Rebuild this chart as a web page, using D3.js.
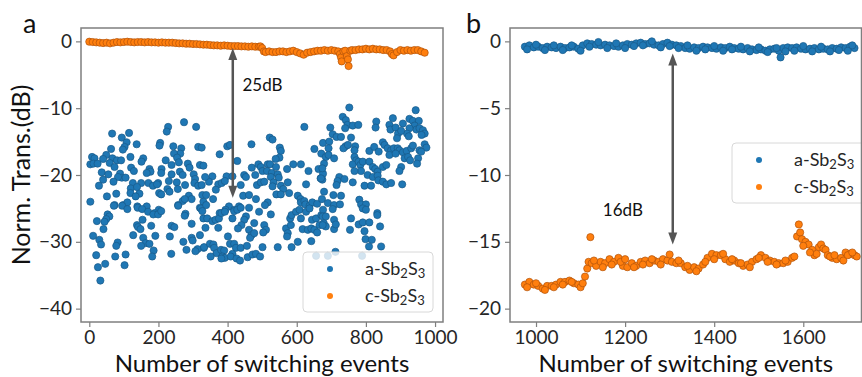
<!DOCTYPE html>
<html>
<head>
<meta charset="utf-8">
<script src="https://cdn.jsdelivr.net/npm/d3@7"></script>
<style>
  body { margin: 0; background: #fff; }
  svg { font-family: Lato, "Open Sans", sans-serif; }
</style>
</head>
<body>
<svg id="chart" width="862" height="377"></svg>
<script>
// panel a: amorphous state, scattered [event, dB]
const aAmorphous = [
  [274,-12.1],[228,-12.8],[224,-13.5],[309,-12.8],[66,-13.8],[115,-13.7],[94,-14.4],[108,-15.1],[102,-15.8],[97,-16.2],
  [137,-15.4],[205,-15.2],[203,-15.6],[243,-15.7],[315,-15.8],[325,-15.9],[63,-16.1],[266,-16],[263,-16.8],[245,-16.8],
  [8,-17.3],[15,-17.5],[3,-18.4],[12,-18.3],[24,-18.3],[49,-17],[40,-17.6],[67,-17.5],[59,-18.2],[80,-17.8],
  [92,-17.8],[73,-18.8],[119,-17.3],[156,-17.5],[151,-18],[221,-17.8],[238,-18.5],[254,-17.4],[259,-18.1],[285,-18.3],
  [290,-18.9],[320,-18.5],[121,-18.9],[129,-19.4],[174,-19.1],[177,-19.5],[166,-19.7],[209,-19.1],[208,-19.7],[238,-19.9],
  [262,-19.5],[270,-20],[302,-19.9],[36,-19.6],[55,-19.9],[89,-19.8],[94,-20.4],[83,-20.3],[105,-20.4],[126,-21.2],
  [120,-22],[119,-22.7],[150,-21.2],[171,-21.2],[199,-21.2],[230,-20.9],[253,-21.1],[277,-21.5],[306,-20.6],[304,-21.2],
  [315,-21.6],[325,-21.5],[40,-20.7],[28,-21.6],[70,-21],[51,-23.2],[78,-22.8],[3,-24],[73,-24.5],[138,-21.8],
  [145,-22.8],[134,-23.2],[184,-21.6],[196,-21.4],[202,-22.7],[208,-22.9],[226,-22.1],[232,-22.5],[256,-22.1],[270,-23.9],
  [288,-23.1],[296,-23.6],[276,-23.6],[327,-23],[330,-24],[98,-24.5],[110,-24.1],[139,-24.7],[166,-24.7],[201,-25.2],
  [189,-25.7],[257,-24.5],[320,-24.9],
  [22,-26.9],[53,-25.9],[58,-26.2],[49,-26.6],[44,-27],[41,-28.1],[11,-29.1],[29,-29.7],[34,-30.4],[20,-32],
  [25,-33.8],[46,-33.3],[32,-35.8],[82,-30.1],[78,-30.6],[75,-32.2],[105,-31.9],[102,-33.5],[71,-24.6],[95,-24.6],
  [110,-25.1],[140,-24.9],[153,-25.1],[170,-25.5],[185,-25.9],[199,-25.9],[208,-25.4],[154,-26.7],[138,-27.5],[141,-27.8],
  [148,-28.1],[179,-27.6],[127,-29],[156,-29.4],[191,-29.1],[163,-30.2],[174,-30.3],[150,-30.6],[186,-31.3],[182,-32.2],
  [233,-29.2],[238,-27.6],[246,-27.8],[237,-31.8],[257,-24.6],[278,-25.8],[276,-26.1],[296,-27.3],[272,-30],[296,-29.4],
  [299,-29.8],[281,-31.2],[320,-29],[331,-30.9],[313,-31.1],[307,-31.4],[323,-25],[330,-26.5],[336,-27.9],
  [622,-12.8],[522,-14.4],[530,-14.7],[469,-15.4],[399,-15.7],[407,-15.5],[551,-15.9],[554,-16.4],[550,-17.4],[539,-17.6],
  [377,-16.9],[651,-16.1],[671,-16.8],[428,-17.9],[330,-18.6],[470,-18.9],[489,-18.4],[496,-18.8],[501,-19.4],[516,-18.4],
  [523,-18.4],[514,-19.4],[528,-19.7],[525,-20.3],[540,-18.8],[545,-19.9],[548,-20.4],[572,-19.1],[590,-18.4],[612,-18.4],
  [634,-19.4],[663,-19.1],[669,-20.5],[676,-19.8],[448,-20],[453,-20.3],[480,-20],[397,-20.2],[414,-20.2],[356,-20.2],
  [346,-21],[335,-20.3],[373,-21.4],[383,-21.2],[392,-20.9],[366,-22.2],[438,-21.5],[485,-21.5],[496,-21.1],[506,-21],
  [533,-21.1],[530,-21.7],[554,-21.6],[574,-21.1],[561,-22.1],[541,-22.9],[554,-22.9],[578,-22.7],[627,-21.4],[603,-23.1],
  [611,-23.6],[612,-24.1],[622,-23.9],[625,-24.4],[637,-24.6],[645,-24.1],[659,-24.3],[673,-23.6],[674,-20.7],[338,-23],
  [358,-23.6],[338,-24.5],[445,-23.1],[462,-23],[482,-23.6],[516,-24.1],[508,-24.5],[404,-24.7],[419,-25.2],[394,-25.2],
  [433,-24.7],[377,-25.7],[462,-24.9],
  [327,-25.4],[341,-26.5],[356,-26.9],[365,-26.7],[375,-26.5],[373,-27.9],[382,-25.7],[392,-25.5],[414,-26.5],[419,-25.4],
  [428,-25.2],[438,-24.9],[453,-26.2],[448,-26.7],[440,-27.5],[430,-28],[462,-28.2],[469,-29],[465,-29.4],[477,-28.7],
  [477,-27.2],[491,-25.5],[506,-27.5],[511,-28.2],[503,-28.6],[525,-25.9],[501,-30.8],[545,-30.8],[585,-30.8],[603,-30],
  [642,-29.9],[569,-28],[574,-28.7],[572,-29.2],[583,-27.5],[581,-26.5],[585,-26],[598,-25.5],[608,-25.2],[612,-26.5],
  [617,-28.1],[632,-28.2],[642,-28],[651,-28.2],[659,-28.6],[627,-25.5],[637,-25],[644,-26.7],[656,-26.5],[666,-27.5],
  [671,-26],[678,-27.2],[676,-25.2],[332,-30.8],[349,-30.3],[359,-30.4],[361,-30.9],[368,-31.7],[351,-32.2],[381,-31.2],
  [390,-31.3],[385,-32.2],[392,-32.4],[382,-32.5],[401,-29.2],[407,-30.3],[419,-30.3],[424,-30.9],[414,-31.8],[409,-32.2],
  [426,-32.5],[436,-32.8],[438,-30.9],[456,-30.6],[458,-32.3],[472,-31.9],[482,-31.8],[494,-32.2],
  [752,-9.9],[733,-11.3],[742,-11.8],[747,-12.5],[740,-13],[762,-12.6],[778,-12.5],[697,-12.9],[704,-13.9],[715,-14.3],
  [728,-14.3],[757,-14.4],[830,-12],[828,-12.9],[878,-11.5],[868,-12.5],[871,-13.2],[907,-12.3],[926,-11.6],[936,-11.9],
  [953,-11.9],[941,-12.6],[946,-13.2],[955,-13],[965,-13.3],[970,-13.8],[961,-14],[926,-13],[919,-13.8],[924,-14.2],
  [944,-10.3],[886,-12.9],[893,-13.8],[902,-13.4],[890,-14.5],[676,-15.2],[694,-15],[692,-16],[741,-15.7],[735,-16],
  [748,-15.5],[769,-15.7],[767,-16.3],[810,-16.4],[824,-15.8],[849,-15.1],[854,-15.5],[863,-16],[873,-16.3],[881,-16],
  [892,-16],[897,-16.3],[907,-16.6],[918,-16.4],[931,-16],[936,-15.6],[955,-16.3],[970,-15.4],[975,-15.9],[868,-17],
  [886,-16.8],[912,-17.5],[922,-17.3],[928,-17.8],[951,-17.5],[948,-18.3],[960,-16.5],[837,-16.5],[684,-17.3],[692,-17],
  [708,-17.5],[679,-18.3],[767,-17.3],[772,-17.8],[762,-18.4],[779,-18],[784,-18.5],[791,-18],[786,-19.4],[767,-19.4],
  [810,-18],[820,-18.8],[827,-19.1],[834,-19.5],[849,-18.8],[859,-18.5],[902,-18.8],[897,-19.4],[674,-19],[670,-20.5],
  [723,-20.3],[718,-20.9],[715,-21.5],[738,-20.6],[762,-21.1],[805,-20],[820,-20.3],[834,-20.1],[836,-20.8],[849,-21],
  [859,-21.4],[873,-21.2],[796,-21.6],[815,-21.6],[905,-21.4],[679,-22.5],[706,-23],[728,-23.1],[690,-24.2],[708,-24.5],
  [725,-24.4],[704,-25.1],[781,-23.7],[786,-24.4],[800,-24.4],[791,-25],[833,-25.7],
  [800,-25.2],[675,-26.2],[684,-26.2],[708,-26.7],[684,-27.7],[675,-27.5],[708,-28.1],[713,-27.4],[757,-26.5],[754,-28.2],
  [779,-27.4],[791,-27.1],[810,-27.1],[796,-28.4],[833,-26],[841,-27.7],[799,-29.6],[817,-29.7],[809,-30.7],[844,-30.7],
  [656,-32.1],[690,-32.1],[712,-31.5],[789,-32.1]
]

// panel a: crystalline state
const aCrystalline = [
  [0,-0.05],[10,-0.1],[20,-0.15],[30,-0.2],[40,-0.25],[50,-0.2],[60,-0.3],[70,-0.2],[80,-0.1],[90,-0.15],
  [100,-0.1],[110,-0.05],[120,-0.1],[130,-0.15],[140,-0.1],[150,-0.1],[160,-0.15],[170,-0.1],[180,-0.15],[190,-0.15],
  [200,-0.2],[210,-0.15],[220,-0.2],[230,-0.2],[240,-0.2],[250,-0.25],[260,-0.3],[270,-0.3],[280,-0.35],[290,-0.35],
  [300,-0.4],[310,-0.4],[320,-0.45],[330,-0.5],[340,-0.5],[350,-0.55],[360,-0.6],[370,-0.6],[380,-0.65],[390,-0.6],
  [400,-0.65],[410,-0.7],[420,-0.7],[430,-0.7],[440,-0.75],[450,-0.75],[460,-0.8],[470,-0.75],[480,-0.8],[490,-0.8],
  [495,-0.75],[500,-1.0],[505,-1.5],[510,-1.6],[520,-1.5],[530,-1.6],[540,-1.6],[550,-1.5],[560,-1.5],[570,-1.6],
  [580,-1.5],[590,-1.4],[600,-1.6],[610,-1.8],[620,-2.0],[630,-1.7],[640,-1.6],[650,-1.5],[660,-1.4],[670,-1.4],
  [680,-1.3],[690,-1.4],[700,-1.3],[710,-1.4],[720,-1.5],[725,-1.9],[728,-2.4],[730,-3.0],[735,-1.5],[740,-1.4],
  [745,-2.2],[748,-2.7],[750,-3.7],[755,-1.4],[760,-1.3],[770,-1.3],[780,-1.2],[790,-1.2],[800,-1.1],[810,-1.2],
  [820,-1.1],[830,-1.2],[840,-1.2],[850,-1.3],[860,-1.3],[870,-1.5],[875,-1.9],[880,-2.1],[890,-1.6],[900,-1.3],
  [910,-1.4],[920,-1.3],[930,-1.4],[940,-1.3],[950,-1.3],[960,-1.5],[970,-1.7]
]

// panel b: amorphous state
const bAmorphous = [
  [975,-0.4],[985,-0.3],[995,-0.45],[1005,-0.4],[1015,-0.5],[1025,-0.4],[1035,-0.45],[1045,-0.5],[1055,-0.4],[1065,-0.5],
  [1075,-0.45],[1085,-0.4],[1095,-0.55],[1105,-0.3],[1115,-0.15],[1125,-0.2],[1135,-0.25],[1145,-0.3],[1155,-0.25],[1165,-0.3],
  [1175,-0.35],[1185,-0.4],[1195,-0.3],[1205,-0.2],[1215,-0.25],[1225,-0.15],[1235,-0.1],[1245,-0.2],[1255,-0.15],[1265,-0.25],
  [1275,-0.3],[1285,-0.2],[1295,-0.1],[1305,-0.25],[1315,-0.3],[1325,-0.35],[1335,-0.5],[1345,-0.55],[1355,-0.45],[1365,-0.5],
  [1375,-0.4],[1385,-0.45],[1395,-0.5],[1405,-0.55],[1415,-0.45],[1425,-0.5],[1435,-0.4],[1445,-0.5],[1455,-0.55],[1465,-0.6],
  [1475,-0.5],[1485,-0.6],[1495,-0.65],[1505,-0.6],[1515,-0.7],[1525,-0.6],[1535,-0.55],[1545,-0.7],[1549,-1.2],[1555,-0.5],
  [1565,-0.45],[1575,-0.5],[1585,-0.45],[1595,-0.55],[1605,-0.6],[1615,-0.55],[1625,-0.5],[1635,-0.6],[1645,-0.55],[1655,-0.6],
  [1665,-0.5],[1675,-0.55],[1685,-0.45],[1695,-0.5],[1705,-0.4],[1715,-0.5],
  [980,-0.6],[1000,-0.25],[1020,-0.65],[1040,-0.3],[1060,-0.65],[1080,-0.3],[1100,-0.7],[1120,-0.4],[1140,-0.05],[1160,-0.5],
  [1180,-0.15],[1200,-0.5],[1220,-0.35],[1240,-0.3],[1260,0.0],[1280,-0.45],[1300,-0.35],[1320,-0.5],[1340,-0.3],[1360,-0.7],
  [1380,-0.6],[1400,-0.35],[1420,-0.7],[1440,-0.6],[1460,-0.4],[1480,-0.75],[1500,-0.45],[1520,-0.8],[1540,-0.5],[1560,-0.75],
  [1580,-0.7],[1600,-0.35],[1620,-0.75],[1640,-0.4],[1660,-0.75],[1680,-0.65],[1700,-0.7],[1710,-0.3]
]

// panel b: crystalline state
const bCrystalline = [
  [975,-18.2],[985,-18.0],[995,-18.2],[1005,-18.3],[1015,-18.5],[1025,-18.3],[1035,-18.3],[1045,-18.2],[1055,-18.0],[1065,-18.0],
  [1075,-17.9],[1085,-18.1],[1095,-18.2],[1100,-18.4],[1105,-18.1],[1110,-17.6],[1115,-17.0],[1118,-16.5],[1122,-14.65],[1125,-16.6],
  [1135,-16.8],[1145,-16.5],[1155,-16.6],[1165,-16.3],[1175,-16.5],[1185,-16.2],[1195,-16.8],[1205,-16.9],[1215,-16.6],[1225,-16.8],
  [1235,-16.5],[1245,-16.4],[1255,-16.6],[1265,-16.4],[1275,-16.5],[1285,-16.3],[1295,-16.4],[1300,-15.95],[1305,-16.5],[1315,-16.6],
  [1325,-16.6],[1335,-16.9],[1345,-17.1],[1355,-16.9],[1365,-17.0],[1375,-16.7],[1385,-16.2],[1395,-15.9],[1405,-16.0],[1415,-16.0],
  [1425,-16.3],[1435,-16.5],[1445,-16.4],[1455,-16.6],[1465,-16.8],[1475,-16.7],[1485,-16.5],[1495,-16.3],[1505,-16.0],[1515,-16.2],
  [1525,-16.4],[1535,-16.5],[1545,-16.6],[1555,-16.6],[1565,-16.5],[1575,-16.2],[1580,-16.1],[1586,-14.6],[1590,-13.7],[1593,-14.3],
  [1597,-14.8],[1605,-15.0],[1612,-15.2],[1620,-15.6],[1625,-16.0],[1630,-15.9],[1635,-15.4],[1640,-15.2],[1645,-15.5],[1650,-15.6],
  [1655,-16.0],[1665,-16.2],[1675,-16.3],[1685,-16.2],[1695,-15.8],[1705,-15.9],[1715,-16.0],[1720,-16.1],
  [980,-18.4],[1000,-18.1],[1020,-18.6],[1040,-18.4],[1060,-18.2],[1080,-18.0],[1130,-16.4],[1150,-16.9],[1170,-16.7],[1190,-16.5],
  [1200,-16.3],[1220,-16.9],[1240,-16.7],[1260,-16.3],[1280,-16.7],[1320,-16.4],[1340,-16.8],[1360,-17.2],[1380,-16.5],[1400,-16.3],
  [1420,-15.9],[1440,-16.3],[1460,-16.6],[1480,-16.9],[1500,-16.2],[1520,-16.5],[1540,-16.7],[1560,-16.4],[1600,-15.3],[1615,-15.8],
  [1660,-16.1],[1670,-16.0],[1690,-16.4],[1700,-16.0],[1710,-15.8]
]

const aXTicks = [0, 200, 400, 600, 800, 1000]
const aYTicks = [0, -10, -20, -30, -40]
const bXTicks = [1000, 1200, 1400, 1600]
const bYTicks = [0, -5, -10, -15, -20]
const seriesNames = ['a', 'c']

const blue = '#1f77b4', orange = '#ff7f0e'
const spineColor = '#7f7f7f', textColor = '#262626'

const svg = d3.select('#chart')

const drawPanel = p => {
  const x = d3.scaleLinear().domain(p.xDomain).range([p.left, p.right])
  const y = d3.scaleLinear().domain(p.yDomain).range([p.bottom, p.top])
  const g = svg.append('g')

  // scatter, blue then orange
  p.series.forEach(s => {
    g.append('g').selectAll('circle')
      .data(s.data)
      .join('circle')
      .attr('cx', d => x(d[0]))
      .attr('cy', d => y(d[1]))
      .attr('r', 3.6)
      .attr('fill', s.color)
      .attr('stroke', s.edge)
      .attr('stroke-width', 0.7)
  })

  // double arrow
  const ax = x(p.arrow.x), y1 = y(p.arrow.y1), y2 = y(p.arrow.y2)
  g.append('line')
    .attr('x1', ax).attr('x2', ax)
    .attr('y1', y1 + 8).attr('y2', y2 - 8)
    .attr('stroke', '#555').attr('stroke-width', 2.5)
  g.append('path')
    .attr('d', `M${ax},${y1} L${ax - 4.5},${y1 + 12} L${ax + 4.5},${y1 + 12} Z`)
    .attr('fill', '#555')
  g.append('path')
    .attr('d', `M${ax},${y2} L${ax - 4.5},${y2 - 12} L${ax + 4.5},${y2 - 12} Z`)
    .attr('fill', '#555')
  g.append('text')
    .attr('x', x(p.note.x)).attr('y', y(p.note.y))
    .attr('font-size', 17).attr('fill', '#111')
    .text(p.note.text)

  // legend
  const lg = g.append('g').attr('transform', `translate(${p.legend.x},${p.legend.y})`)
  lg.append('rect')
    .attr('width', p.legend.w).attr('height', 60)
    .attr('rx', 4)
    .attr('fill', 'white').attr('fill-opacity', 0.8)
    .attr('stroke', '#d8d8d8')
  p.series.forEach((s, i) => {
    const yy = 17 + i * 27
    lg.append('circle')
      .attr('cx', 27).attr('cy', yy).attr('r', 3)
      .attr('fill', s.color)
    const t = lg.append('text')
      .attr('x', 62).attr('y', yy + 6)
      .attr('font-size', 18).attr('fill', textColor)
    t.append('tspan').text(s.name + '-Sb')
    t.append('tspan').attr('font-size', 13).attr('dy', 3).text('2')
    t.append('tspan').attr('dy', -3).text('S')
    t.append('tspan').attr('font-size', 13).attr('dy', 3).text('3')
  })

  // axes
  const xAxis = g.append('g')
    .attr('transform', `translate(0,${p.bottom})`)
    .call(d3.axisBottom(x).tickValues(p.xTicks).tickSize(5).tickPadding(4).tickFormat(d3.format('d')))
  const yAxis = g.append('g')
    .attr('transform', `translate(${p.left},0)`)
    .call(d3.axisLeft(y).tickValues(p.yTicks).tickSize(5).tickPadding(4).tickFormat(d3.format('d')))
  ;[xAxis, yAxis].forEach(a => {
    a.select('.domain').remove()
    a.selectAll('line').attr('stroke', spineColor).attr('stroke-width', 1.2)
    a.selectAll('text').attr('font-size', 19).attr('fill', textColor).attr('font-family', 'Lato, sans-serif')
  })

  g.append('rect')
    .attr('x', p.left).attr('y', p.top)
    .attr('width', p.right - p.left).attr('height', p.bottom - p.top)
    .attr('fill', 'none').attr('stroke', spineColor).attr('stroke-width', 1.5)

  g.append('text')
    .attr('x', (p.left + p.right) / 2).attr('y', 372)
    .attr('text-anchor', 'middle').attr('font-size', 24).attr('fill', '#111')
    .text('Number of switching events')

  g.append('text')
    .attr('x', p.label.x).attr('y', 33)
    .attr('font-size', 27).attr('fill', '#111')
    .text(p.label.text)
}

drawPanel({
  left: 81, right: 443, top: 28, bottom: 322,
  xDomain: [-24, 1023], yDomain: [-42, 2],
  xTicks: aXTicks, yTicks: aYTicks,
  series: [
    {name: seriesNames[0], data: aAmorphous, color: blue, edge: '#185a8a'},
    {name: seriesNames[1], data: aCrystalline, color: orange, edge: '#b0520a'}
  ],
  arrow: {x: 415, y1: -1.0, y2: -23.4},
  note: {x: 443, y: -7.5, text: '25dB'},
  legend: {x: 303, y: 252, w: 130},
  label: {x: 23, text: 'a'}
})

drawPanel({
  left: 510, right: 861.5, top: 28, bottom: 322,
  xDomain: [941.6, 1730.7], yDomain: [-21, 1],
  xTicks: bXTicks, yTicks: bYTicks,
  series: [
    {name: seriesNames[0], data: bAmorphous, color: blue, edge: '#185a8a'},
    {name: seriesNames[1], data: bCrystalline, color: orange, edge: '#b0520a'}
  ],
  arrow: {x: 1307, y1: -0.9, y2: -15.2},
  note: {x: 1150, y: -13.1, text: '16dB'},
  legend: {x: 732, y: 143, w: 136},
  label: {x: 466, text: 'b'}
})

svg.append('text')
  .attr('transform', 'translate(30,175) rotate(-90)')
  .attr('text-anchor', 'middle').attr('font-size', 25).attr('fill', '#111')
  .text('Norm. Trans.(dB)')
</script>
</body>
</html>
